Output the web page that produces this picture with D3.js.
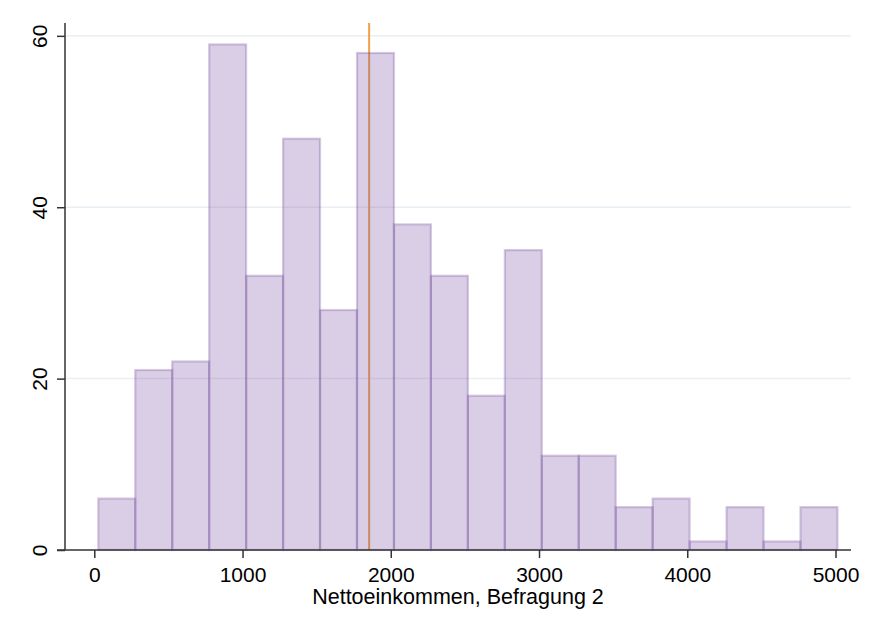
<!DOCTYPE html>
<html><head><meta charset="utf-8">
<script src="https://cdn.jsdelivr.net/npm/d3@7/dist/d3.min.js"></script>
<style>body{margin:0;background:#fff}svg{display:block;font-family:"Liberation Sans",Arial,sans-serif}</style>
</head><body><svg id="c" width="875" height="637"></svg>
<script>
const binStart = 27;
const binWidth = 249.3;
const counts = [6,21,22,59,32,48,28,58,38,32,18,35,11,11,5,6,1,5,1,5];
const xTicks = [0,1000,2000,3000,4000,5000];
const yTicks = [0,20,40,60];
const meanValue = 1854;
const xLabel = "Nettoeinkommen, Befragung 2";

(function(){
const svg = d3.select("#c");
const pL = 65, pR = 851, pT = 23, pB = 550;
const x = d3.scaleLinear().domain([0,5000]).range([94.3,835.5]);
const y = d3.scaleLinear().domain([0,61.5]).range([pB, pT]);

svg.append("g").selectAll("line").data(yTicks.filter(d=>d>0)).join("line")
  .attr("x1",pL).attr("x2",pR).attr("y1",d=>y(d)).attr("y2",d=>y(d))
  .attr("stroke","#eaeff3").attr("stroke-width",1.5);

svg.append("line").attr("x1",x(meanValue)).attr("x2",x(meanValue))
  .attr("y1",pT).attr("y2",pB).attr("stroke","#f0a04b").attr("stroke-width",2);

const bins = counts.map((c,i)=>({x0:binStart+i*binWidth,x1:binStart+(i+1)*binWidth,c}));
svg.append("g").selectAll("rect").data(bins).join("rect")
  .attr("x",d=>x(d.x0)).attr("width",d=>x(d.x1)-x(d.x0))
  .attr("y",d=>y(d.c)).attr("height",d=>pB-y(d.c))
  .attr("fill","rgb(120,80,160)").attr("fill-opacity",0.28)
  .attr("stroke","rgb(120,80,160)").attr("stroke-opacity",0.3).attr("stroke-width",2.2);

const xa = svg.append("g").attr("transform",`translate(0,${pB})`)
  .call(d3.axisBottom(x).tickValues(xTicks).tickSize(8).tickPadding(9).tickFormat(d3.format("d")));
xa.select(".domain").remove();
xa.append("line").attr("x1",pL-8).attr("x2",pR).attr("stroke","#333").attr("stroke-width",1.5);
xa.selectAll(".tick line").attr("stroke","#333").attr("stroke-width",1.5);
xa.selectAll(".tick text").attr("font-size",21).attr("fill","#000").attr("font-family","Liberation Sans, Arial, sans-serif");

const ya = svg.append("g").attr("transform",`translate(${pL},0)`)
  .call(d3.axisLeft(y).tickValues(yTicks).tickSize(8).tickFormat(d3.format("d")));
ya.select(".domain").remove();
ya.append("line").attr("y1",pT).attr("y2",pB).attr("stroke","#333").attr("stroke-width",1.5);
ya.selectAll(".tick line").attr("stroke","#333").attr("stroke-width",1.5);
ya.selectAll(".tick text").attr("font-size",21).attr("fill","#000")
  .attr("font-family","Liberation Sans, Arial, sans-serif")
  .attr("x",0).attr("dy",0).attr("text-anchor","middle")
  .attr("transform","translate(-18,0) rotate(-90)");

svg.append("text").attr("x",(pL+pR)/2).attr("y",604).attr("text-anchor","middle")
  .attr("font-size",21.5).attr("fill","#000").text(xLabel);
})();
</script></body></html>
